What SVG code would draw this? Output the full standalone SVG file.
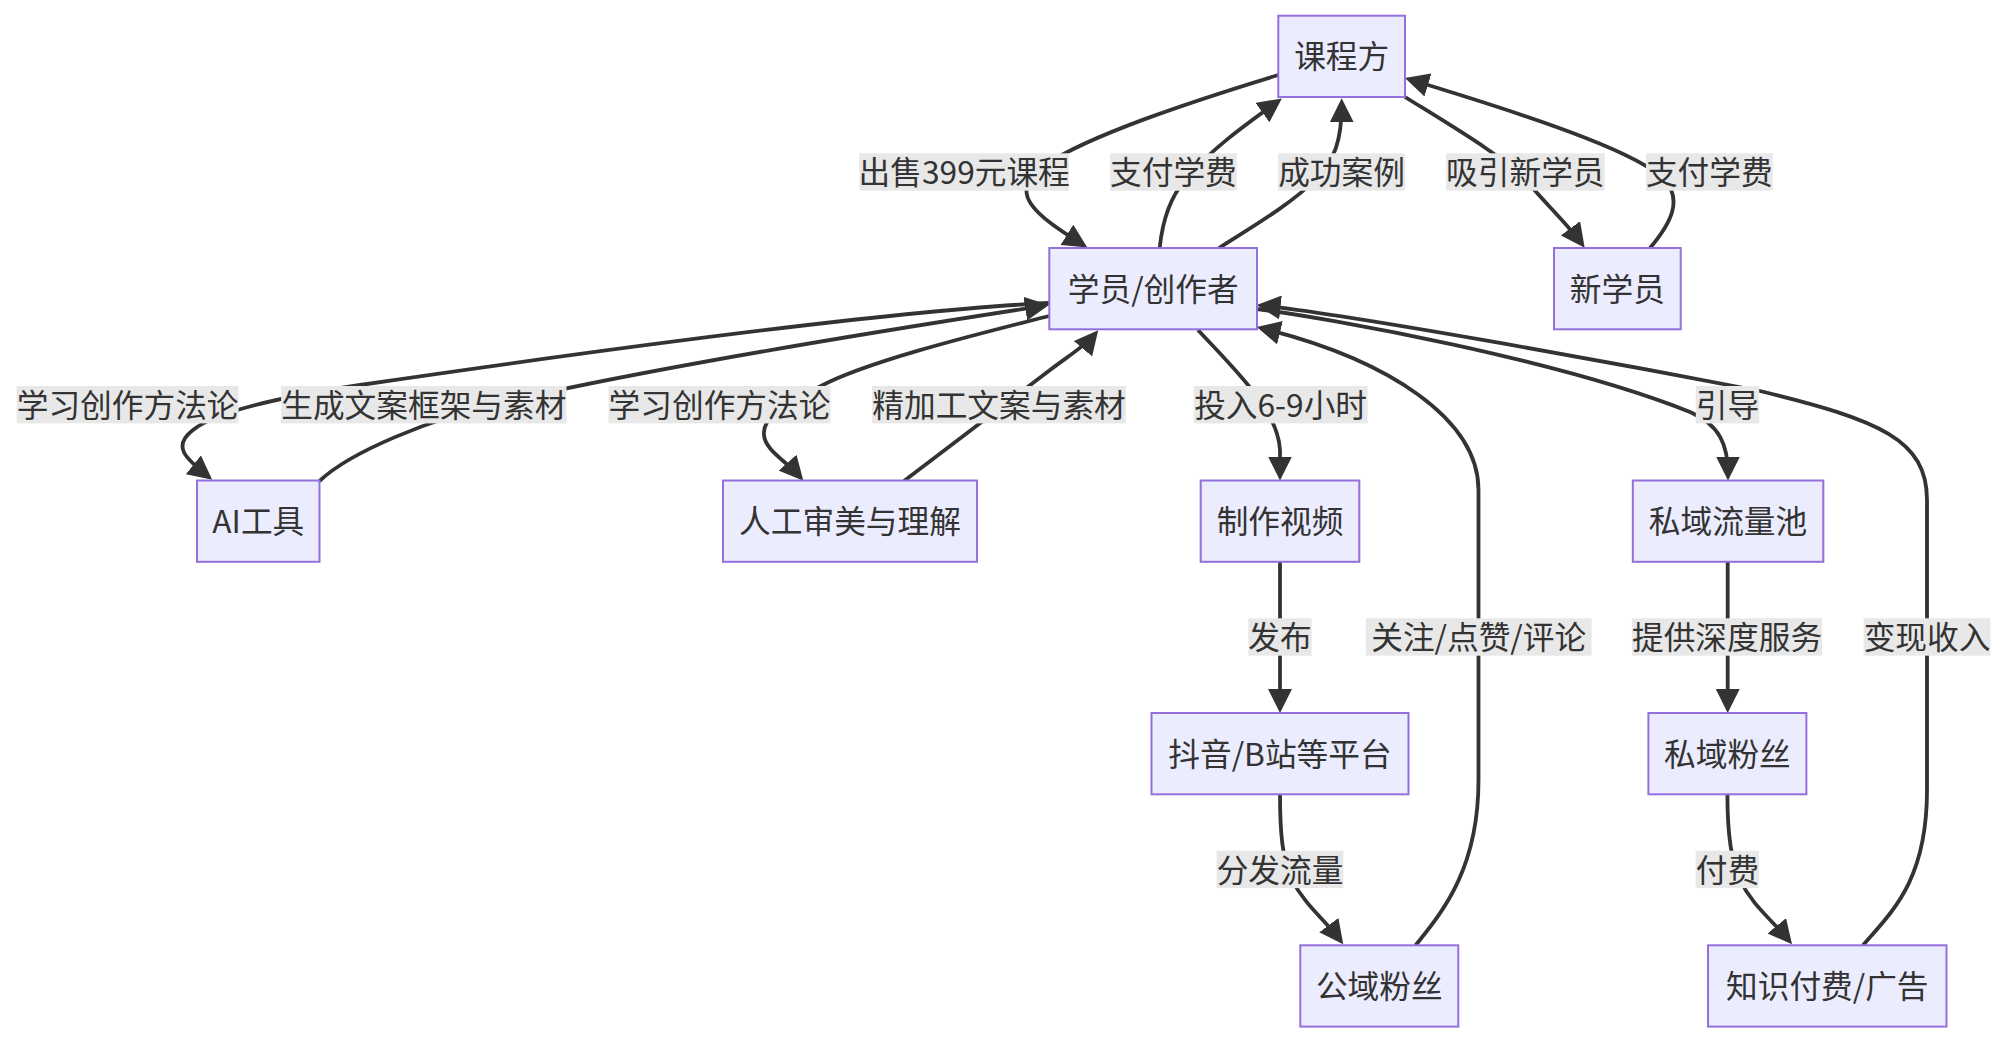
<svg xmlns="http://www.w3.org/2000/svg" width="2008" height="1044" viewBox="0 0 2008 1044">
<defs>
<style>
.node rect{fill:#ECECFF;stroke:#9370DB;stroke-width:2}
.t{font-family:'Noto Sans CJK SC','Noto Sans',sans-serif;font-size:31.7px;fill:#333;text-anchor:middle}
.edge{fill:none;stroke:#333;stroke-width:3.8;marker-end:url(#arr)}
.lbl rect{fill:#e8e8e8}
</style>
<marker id="arr" viewBox="0 0 10 10" refX="7.5" refY="5" markerWidth="24" markerHeight="24" markerUnits="userSpaceOnUse" orient="auto"><path d="M0,0 L10,5 L0,10 z" fill="#333"/></marker>
</defs>
<rect width="2008" height="1044" fill="#fff"/>
<g id="edges">
<path class="edge" d="M1278.3,75 C1190,102 1090,135 1045,165 C1005,192 1035,215 1082.2,244.3"/>
<path class="edge" d="M1159.7,248 C1162,225 1168,200 1185,180 C1210,150 1245,125 1277,102"/>
<path class="edge" d="M1219,248 C1250,228 1290,205 1315,180 C1335,160 1341.7,140 1341.7,104.3"/>
<path class="edge" d="M1405,97 C1450,125 1510,160 1530,185 C1550,208 1568,225 1581.1,242.8"/>
<path class="edge" d="M1650,248 C1672,222 1682,200 1665,180 C1640,155 1560,125 1410.7,79.8"/>
<path class="edge" d="M1049,303 C900,310 600,350 360,385 C280,397 215,412 193,430 C172,446 185,458 207.5,476"/>
<path class="edge" d="M319.5,481 C350,452 430,419 500,403 C650,368 895,328.7 1043.1,305.9"/>
<path class="edge" d="M1049,316 C989,331.4 870,360 821,386 C790,402 762,415 764,435 C765,450 786,461 799.4,476.2"/>
<path class="edge" d="M904,481 L1050,370 C1070,355 1086,345 1094.4,334.9"/>
<path class="edge" d="M1198,330 C1235,370 1278,410 1280,450 L1280,474.5"/>
<path class="edge" d="M1280,562 L1280,707"/>
<path class="edge" d="M1280,794.3 C1280,830 1282,860 1292,880 C1305,905 1325,920 1339.6,939.5"/>
<path class="edge" d="M1415.6,945.3 C1441.6,912.6 1478.5,870 1478.5,780 L1478.5,490 C1478.5,420 1390,360 1262.5,328.4"/>
<path class="edge" d="M1257,309 C1330,318 1560,360 1690,412 C1720,425 1728,445 1728,474.5"/>
<path class="edge" d="M1863,945.3 C1892.7,911 1927,880 1927,790 L1927,500 C1927,440 1880,420 1760,391 C1600,360 1350,315 1262.6,305.6"/>
<path class="edge" d="M1727.7,562 L1727.7,707"/>
<path class="edge" d="M1727.4,794.3 C1727.4,830 1730,860 1740,880 C1752,905 1772,920 1788.2,939.7"/>
</g>
<g id="edge-labels">
<g class="lbl"><rect x="859.3" y="153.3" width="209.7" height="37.4"/><text class="t" x="964.2" y="184">出售399元课程</text></g>
<g class="lbl"><rect x="1110" y="153.3" width="126.7" height="37.4"/><text class="t" x="1173.4" y="184">支付学费</text></g>
<g class="lbl"><rect x="1278" y="153.3" width="127" height="37.4"/><text class="t" x="1341.5" y="184">成功案例</text></g>
<g class="lbl"><rect x="1446" y="153.3" width="158.7" height="37.4"/><text class="t" x="1525.3" y="184">吸引新学员</text></g>
<g class="lbl"><rect x="1646" y="153.3" width="126.7" height="37.4"/><text class="t" x="1709.3" y="184">支付学费</text></g>
<g class="lbl"><rect x="16.6" y="386" width="222" height="37.4"/><text class="t" x="127.6" y="416.7">学习创作方法论</text></g>
<g class="lbl"><rect x="281.1" y="386" width="285.4" height="37.4"/><text class="t" x="423.8" y="416.7">生成文案框架与素材</text></g>
<g class="lbl"><rect x="608.5" y="386" width="222" height="37.4"/><text class="t" x="719.5" y="416.7">学习创作方法论</text></g>
<g class="lbl"><rect x="872.2" y="386" width="253.6" height="37.4"/><text class="t" x="999" y="416.7">精加工文案与素材</text></g>
<g class="lbl"><rect x="1193.7" y="386" width="173.9" height="37.4"/><text class="t" x="1280.6" y="416.7">投入6-9小时</text></g>
<g class="lbl"><rect x="1695.8" y="386" width="63.4" height="37.4"/><text class="t" x="1727.5" y="416.7">引导</text></g>
<g class="lbl"><rect x="1248.3" y="618.3" width="63.4" height="37.4"/><text class="t" x="1280" y="649">发布</text></g>
<g class="lbl"><rect x="1365.8" y="618.3" width="225.8" height="37.4"/><text class="t" x="1478.7" y="649">关注/点赞/评论</text></g>
<g class="lbl"><rect x="1631.9" y="618.3" width="190.2" height="37.4"/><text class="t" x="1727" y="649">提供深度服务</text></g>
<g class="lbl"><rect x="1863.6" y="618.3" width="126.8" height="37.4"/><text class="t" x="1927" y="649">变现收入</text></g>
<g class="lbl"><rect x="1216.6" y="850.7" width="126.8" height="37.4"/><text class="t" x="1280" y="881.5">分发流量</text></g>
<g class="lbl"><rect x="1695.7" y="850.7" width="63.4" height="37.4"/><text class="t" x="1727.4" y="881.5">付费</text></g>
</g>
<g id="node-course" class="node"><rect x="1278.3" y="15.7" width="126.7" height="81.3"/><text class="t" x="1341.7" y="68.3">课程方</text></g>
<g id="node-student" class="node"><rect x="1049.3" y="248" width="207.7" height="81.3"/><text class="t" x="1153.2" y="300.7">学员/创作者</text></g>
<g id="node-newstudent" class="node"><rect x="1554" y="248" width="126.7" height="81.3"/><text class="t" x="1617.3" y="300.7">新学员</text></g>
<g id="node-ai" class="node"><rect x="197" y="480.5" width="122.5" height="81.3"/><text class="t" x="258.3" y="533.2">AI工具</text></g>
<g id="node-human" class="node"><rect x="723" y="480.5" width="254" height="81.3"/><text class="t" x="850" y="533.2">人工审美与理解</text></g>
<g id="node-video" class="node"><rect x="1200.7" y="480.5" width="158.6" height="81.3"/><text class="t" x="1280" y="533.2">制作视频</text></g>
<g id="node-pool" class="node"><rect x="1632.8" y="480.5" width="190.5" height="81.3"/><text class="t" x="1728" y="533.2">私域流量池</text></g>
<g id="node-platform" class="node"><rect x="1151.5" y="713" width="257" height="81.3"/><text class="t" x="1280" y="765.7">抖音/B站等平台</text></g>
<g id="node-privatefans" class="node"><rect x="1648.4" y="713" width="158" height="81.3"/><text class="t" x="1727.4" y="765.7">私域粉丝</text></g>
<g id="node-publicfans" class="node"><rect x="1300.3" y="945.3" width="158" height="81.3"/><text class="t" x="1379.3" y="998">公域粉丝</text></g>
<g id="node-monetize" class="node"><rect x="1708" y="945.3" width="238.5" height="81.3"/><text class="t" x="1827.3" y="998">知识付费/广告</text></g>
</svg>
